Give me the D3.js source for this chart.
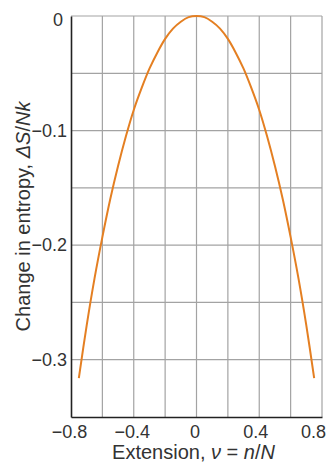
<!DOCTYPE html>
<html>
<head>
<meta charset="utf-8">
<script src="https://cdn.jsdelivr.net/npm/d3@7"></script>
<style>
  html, body { margin: 0; padding: 0; background: #fff; }
  svg { display: block; }
  text { font-family: "Liberation Sans", Arial, Helvetica, sans-serif; fill: #333; }
</style>
</head>
<body>
<div id="chart"></div>
<script>
// Extension ν = n/N
const extension = [-0.75, -0.70, -0.65, -0.60, -0.55, -0.50, -0.45, -0.40, -0.35, -0.30, -0.25, -0.20, -0.15, -0.10, -0.05,
  0.00, 0.05, 0.10, 0.15, 0.20, 0.25, 0.30, 0.35, 0.40, 0.45, 0.50, 0.55, 0.60, 0.65, 0.70, 0.75];
// Change in entropy ΔS/Nk
const entropyChange = [-0.316, -0.270, -0.229, -0.193, -0.160, -0.131, -0.105, -0.082, -0.063, -0.046, -0.032, -0.020, -0.011, -0.005, -0.001,
  0.000, -0.001, -0.005, -0.011, -0.020, -0.032, -0.046, -0.063, -0.082, -0.105, -0.131, -0.160, -0.193, -0.229, -0.270, -0.316];
const xTicks = [-0.8, -0.4, 0, 0.4, 0.8];
const yTicks = [-0.3, -0.2, -0.1, 0];
const xGrid = [-0.6, -0.4, -0.2, 0, 0.2, 0.4, 0.6, 0.8];
const yGrid = [-0.3, -0.25, -0.2, -0.15, -0.1, -0.05, 0];

const W = 330, H = 464;
const m = {left: 71, right: 8, top: 16, bottom: 47};

const svg = d3.select("#chart").append("svg").attr("width", W).attr("height", H);

const x = d3.scaleLinear().domain([-0.8, 0.8]).range([m.left, W - m.right]);
const y = d3.scaleLinear().domain([-0.35, 0]).range([H - m.bottom, m.top]);

// grid
svg.append("g").selectAll("line").data(xGrid).join("line")
  .attr("x1", d => x(d)).attr("x2", d => x(d))
  .attr("y1", y(0)).attr("y2", y(-0.35))
  .attr("stroke", "#a3a3a3").attr("stroke-width", 1.2);
svg.append("g").selectAll("line").data(yGrid).join("line")
  .attr("x1", x(-0.8)).attr("x2", x(0.8))
  .attr("y1", d => y(d)).attr("y2", d => y(d))
  .attr("stroke", "#a3a3a3").attr("stroke-width", 1.2);

// axes
const fmt = d => d === 0 ? "0" : d3.format(".1f")(d);
const gx = svg.append("g").attr("transform", `translate(0,${y(-0.35)})`)
  .call(d3.axisBottom(x).tickValues(xTicks).tickSize(0).tickPadding(8).tickFormat(fmt));
const gy = svg.append("g").attr("transform", `translate(${x(-0.8)},0)`)
  .call(d3.axisLeft(y).tickValues(yTicks).tickSize(0).tickPadding(4).tickFormat(fmt));
[gx, gy].forEach(g => {
  g.select(".domain").attr("stroke", "#222").attr("stroke-width", 1.6);
  g.selectAll("text").style("font-size", "18px").attr("fill", "#333");
});
gx.selectAll(".tick text").attr("dx", d => d === 0.8 ? -9 : d === 0.4 ? -4 : -2);
gy.selectAll(".tick text").attr("dx", d => d === 0 ? -4 : 0).attr("dy", d => d === 0 ? "0.55em" : "0.32em");

// curve
const pts = extension.map((v, i) => [v, entropyChange[i]]);
svg.append("path").datum(pts)
  .attr("fill", "none").attr("stroke", "#e47f22").attr("stroke-width", 2)
  .attr("d", d3.line().x(d => x(d[0])).y(d => y(d[1])).curve(d3.curveCatmullRom));

// axis titles
const xt = svg.append("text").attr("x", (x(-0.8) + x(0.8)) / 2 - 3).attr("y", 459)
  .attr("text-anchor", "middle").style("font-size", "20px");
xt.append("tspan").text("Extension, ");
xt.append("tspan").style("font-style", "italic").text("ν");
xt.append("tspan").text(" = ");
xt.append("tspan").style("font-style", "italic").text("n");
xt.append("tspan").text("/");
xt.append("tspan").style("font-style", "italic").text("N");

const yt = svg.append("text").attr("transform", `translate(30,${(y(0) + y(-0.35)) / 2}) rotate(-90)`)
  .attr("text-anchor", "middle").style("font-size", "20px");
yt.append("tspan").text("Change in entropy, ");
yt.append("tspan").style("font-style", "italic").text("ΔS");
yt.append("tspan").text("/");
yt.append("tspan").style("font-style", "italic").text("Nk");
</script>
</body>
</html>
